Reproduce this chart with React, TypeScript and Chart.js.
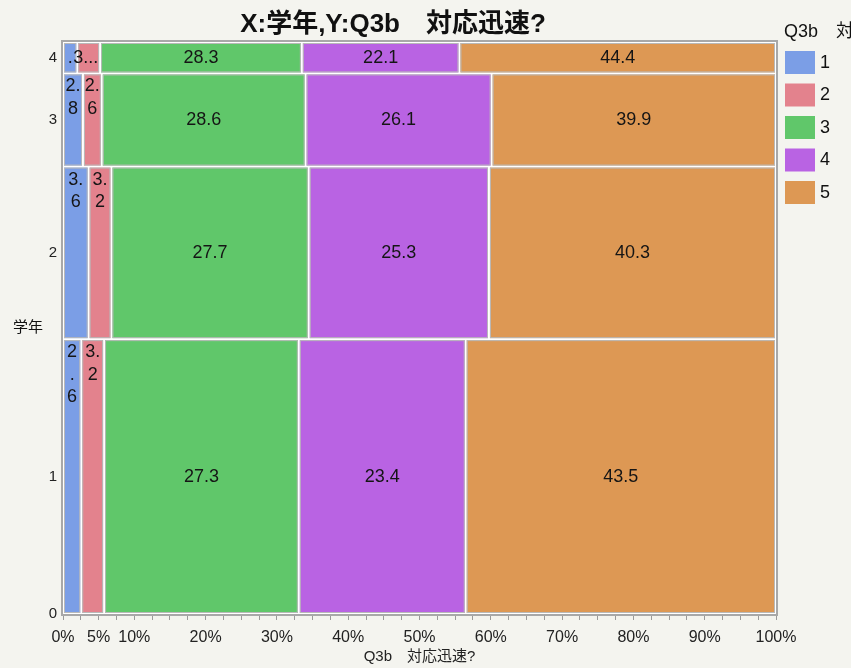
import React, { useEffect, useRef } from "react";
import { Chart, registerables } from "chart.js";

Chart.register(...registerables);

// ---- data ----
const grades = ["1", "2", "3", "4"];
const gradeShare = [48.1, 30.2, 16.3, 5.5];
const levels = ["1", "2", "3", "4", "5"];
const grade1 = [2.56, 3.2, 27.3, 23.4, 43.5];
const grade2 = [3.6, 3.2, 27.7, 25.3, 40.3];
const grade3 = [2.8, 2.64, 28.6, 26.1, 39.9];
const grade4 = [2.0, 3.2, 28.3, 22.1, 44.4];
const gradeValues = [grade1, grade2, grade3, grade4];
const xTickLabels = [0, 5, 10, 20, 30, 40, 50, 60, 70, 80, 90, 100];

const titleText = "X:学年,Y:Q3b\u3000対応迅速?";
const xTitleText = "Q3b\u3000対応迅速?";
const yTitleText = "学年";
const legendTitleText = "Q3b\u3000対応迅速?";

const levelColors = ["#7b9ee6", "#e3828d", "#60c76a", "#b963e3", "#dd9854"];
const FONT = "'Liberation Sans', 'Noto Sans CJK JP', Arial, sans-serif";

function drawLabel(ctx: CanvasRenderingContext2D, text: string, x0: number, x1: number, y0: number, y1: number) {
  const w = x1 - x0 - 3.5;
  const h = y1 - y0;
  const cx = (x0 + x1) / 2;
  const lineH = 22.5;
  if (ctx.measureText(text).width <= w) {
    ctx.fillText(text, cx, (y0 + y1) / 2);
    return;
  }
  const lines: string[] = [];
  let cur = "";
  for (const ch of text) {
    if (cur && ctx.measureText(cur + ch).width > w) {
      lines.push(cur);
      cur = ch;
    } else cur += ch;
  }
  if (cur) lines.push(cur);
  if (lines.length * lineH <= h) {
    lines.forEach((ln, i) => ctx.fillText(ln, cx, y0 + 13 + i * lineH));
    return;
  }
  for (let n = text.length - 1; n >= 1; n--) {
    const t = text.slice(0, n) + "...";
    if (ctx.measureText(t).width <= w * 1.35) {
      ctx.fillText(t, cx - 3, (y0 + y1) / 2);
      return;
    }
  }
  ctx.fillText(".", cx, (y0 + y1) / 2);
}

const mosaicPlugin = {
  id: "mosaic",
  beforeDatasetsDraw(chart: any) {
    const { ctx, chartArea: a } = chart;
    const xs = chart.scales.x;
    const ys = chart.scales.y;
    ctx.save();
    ctx.fillStyle = "#ffffff";
    ctx.fillRect(a.left, a.top, a.right - a.left, a.bottom - a.top);
    const labels: any[] = [];
    let lower = 0;
    grades.forEach((g, r) => {
      const upper = lower + gradeShare[r];
      const vals = gradeValues[r];
      const tot = vals.reduce((s, v) => s + v, 0);
      const yTop = ys.getPixelForValue(upper);
      const yBot = ys.getPixelForValue(lower);
      let cum = 0;
      vals.forEach((v, k) => {
        const x0 = xs.getPixelForValue((cum / tot) * 100);
        cum += v;
        const x1 = xs.getPixelForValue((cum / tot) * 100);
        ctx.fillStyle = levelColors[k];
        ctx.fillRect(x0 + 1, yTop + 1, x1 - x0 - 2, yBot - yTop - 2);
        ctx.strokeStyle = "#b9b9b9";
        ctx.lineWidth = 1;
        ctx.strokeRect(x0 + 1.5, yTop + 1.5, x1 - x0 - 3, yBot - yTop - 3);
        labels.push([v.toFixed(1), x0, x1, yTop, yBot]);
      });
      lower = upper;
    });
    ctx.font = `18px ${FONT}`;
    ctx.fillStyle = "#151515";
    ctx.textAlign = "center";
    ctx.textBaseline = "middle";
    labels.forEach((l) => drawLabel(ctx, l[0], l[1], l[2], l[3], l[4]));
    ctx.strokeStyle = "#a8a8a8";
    ctx.lineWidth = 2;
    ctx.strokeRect(a.left - 1, a.top - 1, a.right - a.left + 2, a.bottom - a.top + 2);
    ctx.restore();
  },
  afterDraw(chart: any) {
    const { ctx, chartArea: a } = chart;
    ctx.save();
    // title
    ctx.fillStyle = "#111";
    ctx.textAlign = "center";
    ctx.textBaseline = "middle";
    ctx.font = `bold 26px ${FONT}`;
    const legendLeft = a.right + 10;
    ctx.fillText(titleText, legendLeft / 2, 25);
    // y title
    ctx.font = `15px ${FONT}`;
    ctx.fillText(yTitleText, 28, (a.top + a.bottom) / 2);
    // legend
    ctx.textAlign = "left";
    ctx.font = `18px ${FONT}`;
    ctx.fillText(legendTitleText, a.right + 8, 32);
    levels.forEach((lv, i) => {
      const top = 51 + i * 32.5;
      ctx.fillStyle = levelColors[i];
      ctx.fillRect(a.right + 9, top, 30, 23);
      ctx.fillStyle = "#111";
      ctx.fillText(lv, a.right + 44, top + 12);
    });
    ctx.restore();
  },
};

export default function App() {
  const ref = useRef<HTMLCanvasElement | null>(null);
  useEffect(() => {
    if (!ref.current) return;
    const total = gradeShare.reduce((s, v) => s + v, 0);
    const yTicks = [0];
    let c = 0;
    gradeShare.forEach((s) => {
      yTicks.push(c + s / 2);
      c += s;
    });
    const chart = new Chart(ref.current, {
      type: "scatter",
      data: { datasets: [] },
      plugins: [mosaicPlugin],
      options: {
        responsive: false,
        animation: false,
        devicePixelRatio: 1,
        layout: { padding: { top: 42, right: 75, left: 0, bottom: 0 } },
        plugins: { legend: { display: false }, title: { display: false }, tooltip: { enabled: false } },
        scales: {
          x: {
            type: "linear",
            min: 0,
            max: 100,
            afterFit: (s: any) => {
              s.height = 54;
            },
            ticks: {
              stepSize: 2.5,
              autoSkip: false,
              maxRotation: 0,
              padding: 8,
              color: "#222",
              font: { size: 16, family: FONT },
              callback: (v: any) => (xTickLabels.includes(Number(v)) ? `${v}%` : ""),
            },
            grid: { display: true, drawOnChartArea: false, drawTicks: true, tickLength: 6, color: "#9a9a9a" },
            border: { display: false },
            title: {
              display: true,
              text: xTitleText,
              color: "#222",
              font: { size: 15, family: FONT },
              padding: { top: 0, bottom: 2 },
            },
          },
          y: {
            type: "linear",
            min: 0,
            max: total,
            afterBuildTicks: (s: any) => {
              s.ticks = yTicks.map((v) => ({ value: v }));
            },
            afterFit: (s: any) => {
              s.width = 63;
            },
            ticks: {
              autoSkip: false,
              padding: 6,
              color: "#222",
              font: { size: 15, family: FONT },
              callback: (v: any, i: number) => (i === 0 ? "0" : grades[i - 1]),
            },
            grid: { display: false, drawTicks: false },
            border: { display: false },
          },
        },
      } as any,
    });
    return () => chart.destroy();
  }, []);
  return (
    <div style={{ position: "absolute", left: 0, top: 0, width: 851, height: 668, background: "#f4f4ef" }}>
      <canvas ref={ref} width={851} height={668} style={{ width: 851, height: 668, display: "block" }} />
    </div>
  );
}
